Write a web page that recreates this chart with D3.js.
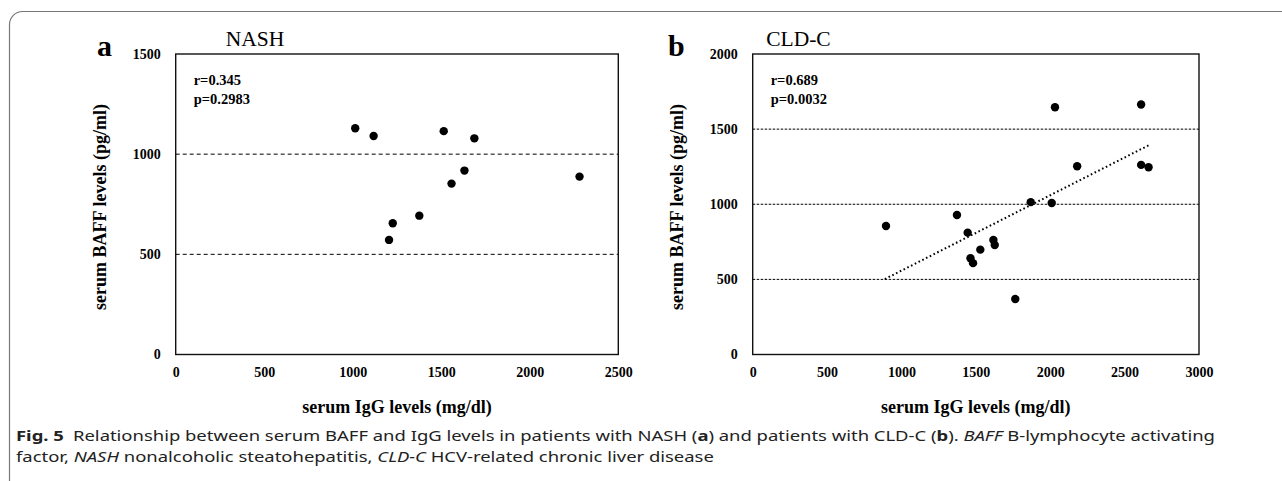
<!DOCTYPE html>
<html>
<head>
<meta charset="utf-8">
<script src="https://cdn.jsdelivr.net/npm/d3@7"></script>
<style>
  body { margin: 0; background: #fff; }
  svg { display: block; }
</style>
</head>
<body>
<svg id="chart" width="1282" height="481"></svg>
<script>
// values
const nashIgG  = [1014, 1118, 1205, 1226, 1376, 1514, 1558, 1631, 1687, 2281];
const nashBAFF = [1129, 1091, 572, 655, 693, 1115, 853, 918, 1079, 888];
const nashXTicks = [0, 500, 1000, 1500, 2000, 2500];
const nashYTicks = [0, 500, 1000, 1500];
const nashRefLines = [500, 1000];

const cldIgG  = [896, 1373, 1445, 1464, 1481, 1530, 1618, 1627, 1765, 1869, 2010, 2032, 2181, 2611, 2611, 2661];
const cldBAFF = [855, 928, 811, 641, 608, 698, 762, 729, 369, 1014, 1008, 1646, 1253, 1664, 1262, 1246];
const cldXTicks = [0, 500, 1000, 1500, 2000, 2500, 3000];
const cldYTicks = [0, 500, 1000, 1500, 2000];
const cldRefLines = [500, 1000, 1500];
const cldTrendIgG  = [888, 2661];
const cldTrendBAFF = [502, 1392];

const svg = d3.select('#chart');
const serif = '"Liberation Serif", "Times New Roman", serif';

// outer rounded frame, runs off the right and bottom edges
svg.append('rect')
  .attr('x', 9.5).attr('y', 11.5)
  .attr('width', 1400).attr('height', 600)
  .attr('rx', 13)
  .attr('fill', 'none')
  .attr('stroke', '#777')
  .attr('stroke-width', 1.2);

const panels = [
  {
    letter: 'a', title: 'NASH', r: 'r=0.345', p: 'p=0.2983',
    xs: nashIgG, ys: nashBAFF, xTicks: nashXTicks, yTicks: nashYTicks,
    refs: nashRefLines, dash: '4,3',
    left: 175.7, right: 618.3, letterX: 97, yTitleX: 106
  },
  {
    letter: 'b', title: 'CLD-C', r: 'r=0.689', p: 'p=0.0032',
    xs: cldIgG, ys: cldBAFF, xTicks: cldXTicks, yTicks: cldYTicks,
    refs: cldRefLines, dash: '2.5,1.5',
    trend: { xs: cldTrendIgG, ys: cldTrendBAFF },
    left: 752.7, right: 1199, letterX: 668, yTitleX: 683
  }
];

const plotTop = 54, plotBottom = 354.5;

function styleAxis(sel) {
  sel.select('.domain').remove();
  sel.attr('font-family', serif)
    .attr('font-size', 14)
    .attr('font-weight', 'bold');
  sel.selectAll('.tick text').attr('fill', '#000');
}

panels.forEach(cfg => {
  const g = svg.append('g');
  const x = d3.scaleLinear()
    .domain([0, d3.max(cfg.xTicks)])
    .range([cfg.left, cfg.right]);
  const y = d3.scaleLinear()
    .domain([0, d3.max(cfg.yTicks)])
    .range([plotBottom, plotTop]);

  // dashed reference lines
  g.selectAll('line.ref')
    .data(cfg.refs).enter()
    .append('line')
    .attr('class', 'ref')
    .attr('x1', x.range()[0]).attr('x2', x.range()[1])
    .attr('y1', d => y(d)).attr('y2', d => y(d))
    .attr('stroke', '#000')
    .attr('stroke-width', 1)
    .attr('stroke-dasharray', cfg.dash);

  // plot border
  g.append('rect')
    .attr('x', x.range()[0]).attr('y', y.range()[1])
    .attr('width', x.range()[1] - x.range()[0])
    .attr('height', y.range()[0] - y.range()[1])
    .attr('fill', 'none')
    .attr('stroke', '#111')
    .attr('stroke-width', 1.4);

  // axes, labels only
  g.append('g')
    .attr('transform', `translate(0,${plotBottom})`)
    .call(d3.axisBottom(x).tickValues(cfg.xTicks).tickFormat(d3.format('d')).tickSize(0).tickPadding(13))
    .call(styleAxis);

  g.append('g')
    .attr('transform', `translate(${cfg.left},0)`)
    .call(d3.axisLeft(y).tickValues(cfg.yTicks).tickFormat(d3.format('d')).tickSize(0).tickPadding(15))
    .call(styleAxis);

  if (cfg.trend) {
    const pts = cfg.trend.xs.map((v, i) => [v, cfg.trend.ys[i]]);
    g.append('path')
      .datum(pts)
      .attr('d', d3.line().x(d => x(d[0])).y(d => y(d[1])))
      .attr('stroke', '#000')
      .attr('stroke-width', 2)
      .attr('stroke-dasharray', '1.6,2.6')
      .attr('fill', 'none');
  }

  g.selectAll('circle')
    .data(cfg.xs.map((v, i) => [v, cfg.ys[i]])).enter()
    .append('circle')
    .attr('cx', d => x(d[0]))
    .attr('cy', d => y(d[1]))
    .attr('r', 4.2)
    .attr('fill', '#000');

  // panel letter and group title
  g.append('text')
    .attr('x', cfg.letterX).attr('y', 55.5)
    .attr('font-family', serif).attr('font-weight', 'bold').attr('font-size', 30)
    .text(cfg.letter);

  g.append('text')
    .attr('x', cfg.left + (cfg.letter === 'a' ? 50 : 13.5)).attr('y', 46)
    .attr('font-family', serif).attr('font-size', 21.5)
    .text(cfg.title);

  // correlation text
  [cfg.r, cfg.p].forEach((t, i) => {
    g.append('text')
      .attr('x', cfg.left + 18).attr('y', 85 + i * 19)
      .attr('font-family', serif).attr('font-weight', 'bold').attr('font-size', 14.5)
      .text(t);
  });

  // axis titles
  g.append('text')
    .attr('x', (cfg.left + cfg.right) / 2).attr('y', 412.5)
    .attr('text-anchor', 'middle')
    .attr('font-family', serif).attr('font-weight', 'bold').attr('font-size', 18)
    .text('serum IgG levels (mg/dl)');

  g.append('text')
    .attr('transform', `translate(${cfg.yTitleX},207) rotate(-90)`)
    .attr('text-anchor', 'middle')
    .attr('font-family', serif).attr('font-weight', 'bold').attr('font-size', 18)
    .text('serum BAFF levels (pg/ml)');
});

// figure caption
const capFont = '"Noto Sans", "Open Sans", sans-serif';
const capLines = [
  [
    { t: 'Fig. 5', w: 'bold' },
    { t: '\u2002Relationship between serum BAFF and IgG levels in patients with NASH (' },
    { t: 'a', w: 'bold' },
    { t: ') and patients with CLD-C (' },
    { t: 'b', w: 'bold' },
    { t: '). ' },
    { t: 'BAFF', s: 'italic' },
    { t: ' B-lymphocyte activating' }
  ],
  [
    { t: 'factor, ' },
    { t: 'NASH', s: 'italic' },
    { t: ' nonalcoholic steatohepatitis, ' },
    { t: 'CLD-C', s: 'italic' },
    { t: ' HCV-related chronic liver disease' }
  ]
];

const capTexts = capLines.map((parts, i) => {
  const txt = svg.append('text')
    .attr('x', 0).attr('y', 0)
    .attr('font-family', capFont)
    .attr('font-size', 15)
    .attr('fill', '#222')
    .attr('transform', `translate(16,${440.5 + i * 21.5})`);
  parts.forEach(p => {
    txt.append('tspan')
      .attr('font-weight', p.w || 'normal')
      .attr('font-style', p.s || 'normal')
      .text(p.t);
  });
  return txt;
});

// squeeze caption to the narrow width of the original typeface
const firstWidth = capTexts[0].node().getComputedTextLength();
const sx = 1200 / firstWidth;
capTexts.forEach((txt, i) => {
  txt.attr('transform', `translate(16,${440.5 + i * 21.5}) scale(${sx},1)`);
});
</script>
</body>
</html>
